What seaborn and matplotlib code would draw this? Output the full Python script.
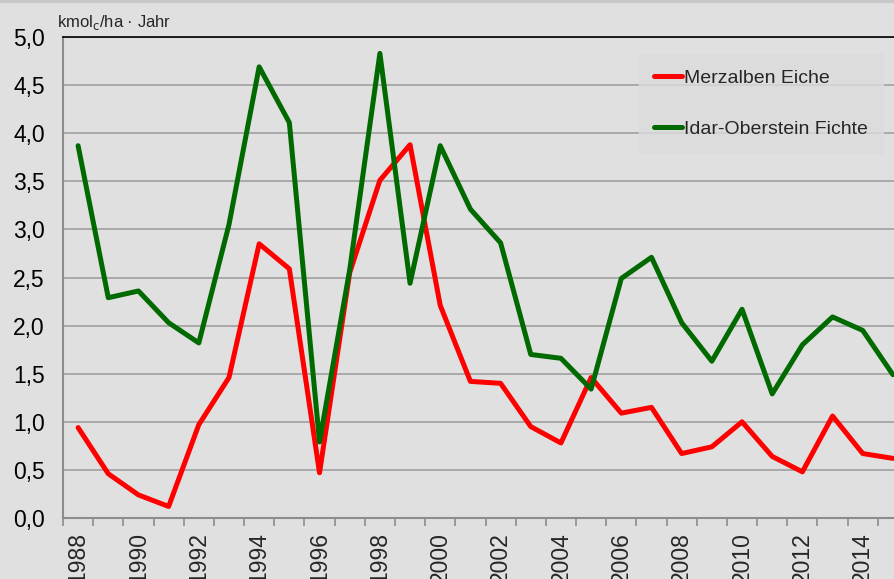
import numpy as np
import pandas as pd
import seaborn as sns
import matplotlib.pyplot as plt
from matplotlib.ticker import FixedLocator, FuncFormatter

# data
years = list(range(1988, 2016))
merzalben = [0.94, 0.46, 0.24, 0.12, 0.97, 1.46, 2.85, 2.59, 0.47, 2.55,
             3.51, 3.88, 2.21, 1.42, 1.40, 0.95, 0.78, 1.46, 1.09, 1.15,
             0.67, 0.74, 1.00, 0.64, 0.48, 1.06, 0.67, 0.62]
idar = [3.87, 2.29, 2.36, 2.03, 1.82, 3.05, 4.69, 4.11, 0.79, 2.58,
        4.83, 2.44, 3.87, 3.21, 2.86, 1.70, 1.66, 1.34, 2.49, 2.71,
        2.03, 1.63, 2.17, 1.29, 1.80, 2.09, 1.95, 1.49]
series_names = ["Merzalben Eiche", "Idar-Oberstein Fichte"]
colors = ["#ff0000", "#006a00"]
year_labels = [str(y) for y in range(1988, 2015, 2)]
y_ticks = [0.0, 0.5, 1.0, 1.5, 2.0, 2.5, 3.0, 3.5, 4.0, 4.5, 5.0]

df = pd.DataFrame({
    "Jahr": years * 2,
    "Wert": merzalben + idar,
    "Standort": [series_names[0]] * len(years) + [series_names[1]] * len(years),
})

bg = "#e0e0e0"
sns.set_style("white")
plt.rcParams["font.family"] = ["Liberation Sans", "DejaVu Sans"]

fig = plt.figure(figsize=(8.95, 5.79), dpi=100, facecolor=bg)
ax = fig.add_axes([63 / 895, 1 - 518 / 579, 845 / 895, (518 - 37) / 579])
ax.set_facecolor(bg)

sns.lineplot(data=df, x="Jahr", y="Wert", hue="Standort", palette=colors,
             linewidth=3.6, ax=ax, legend=True)
for line in ax.get_lines():
    line.set_solid_joinstyle("round")

ax.set_xlim(1987.5, 2015.5)
ax.set_ylim(0, 5)

# y axis
ax.set_yticks(y_ticks)
ax.yaxis.set_major_formatter(FuncFormatter(lambda v, p: f"{v:.1f}".replace(".", ",")))
ax.tick_params(axis="y", length=0, pad=13, labelsize=16.5, colors="black")
ax.grid(axis="y", color="#a0a0a0", linewidth=1.2)
ax.set_axisbelow(True)

# x axis: labels at centers, tick marks at category boundaries
ax.set_xticks([int(y) for y in year_labels])
ax.set_xticklabels(year_labels, rotation=90, fontsize=16.5)
ax.xaxis.set_minor_locator(FixedLocator(np.arange(1987.5, 2016, 1)))
ax.tick_params(axis="x", which="major", length=0, pad=10)
ax.tick_params(axis="x", which="minor", length=6, width=1.2, color="#8c8c8c",
               direction="out", bottom=True)

ax.set_xlabel("")
ax.set_ylabel("")

for side in ["left", "bottom"]:
    ax.spines[side].set_color("#8c8c8c")
    ax.spines[side].set_linewidth(1.5)
ax.spines["top"].set_color("black")
ax.spines["top"].set_linewidth(1.2)
ax.spines["right"].set_visible(False)

fig.text(57 / 895, 1 - 23 / 579, r"kmol$_\mathrm{c}$/ha · Jahr", fontsize=12,
         va="center", ha="left")

leg = ax.legend(loc="upper right", bbox_to_anchor=(883 / 895, 1 - 54 / 579),
                bbox_transform=fig.transFigure, fontsize=14, frameon=True,
                handlelength=1.4, handletextpad=0.1,
                labelspacing=1.7, borderpad=0.8, borderaxespad=0,
                fancybox=False)
leg.get_frame().set_facecolor("#dcdcdc")
leg.get_frame().set_edgecolor("#dcdcdc")
for h in leg.get_lines():
    h.set_linewidth(3.6)

# thin top strip like in the reference
fig.add_artist(plt.Line2D([0, 1], [1 - 1 / 579, 1 - 1 / 579], color="#c8c8c8",
                          linewidth=3, transform=fig.transFigure))

plt.savefig("out.png", dpi=100, facecolor=bg)
